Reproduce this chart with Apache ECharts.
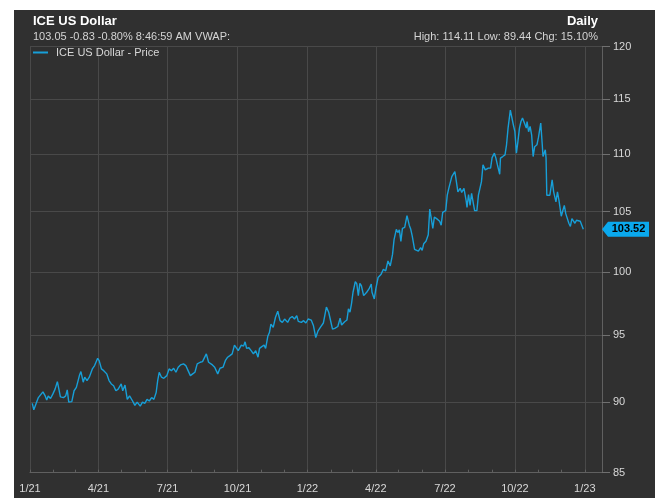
<!DOCTYPE html>
<html>
<head>
<meta charset="utf-8">
<script src="https://cdn.jsdelivr.net/npm/echarts@6/dist/echarts.min.js"></script>
<style>
  html, body { margin: 0; padding: 0; background: #fff; }
  #chart { position: absolute; left: 14px; top: 10px; width: 641px; height: 488px; }
</style>
</head>
<body>
<div id="chart"></div>
<script>
// calendar days since 2021-01-01
const days = [
  3, 5, 7, 11, 13, 17, 20, 22, 24, 27, 30, 33, 36, 38, 40, 44, 47, 49, 51, 55,
  58, 61, 65, 67, 70, 72, 75, 78, 80, 82, 85, 89, 91, 94, 97, 101, 104, 107, 110, 113,
  116, 120, 122, 125, 128, 131, 135, 138, 141, 145, 148, 151, 154, 157, 160, 163, 166, 168, 170, 173,
  176, 180, 183, 186, 189, 192, 195, 198, 202, 205, 208, 211, 214, 217, 220, 224, 227, 229, 232, 235,
  237, 240, 243, 247, 250, 254, 257, 260, 263, 266, 269, 271, 274, 278, 281, 283, 285, 288, 291, 294,
  297, 300, 302, 305, 308, 310, 313, 315, 317, 320, 323, 326, 329, 332, 335, 339, 342, 345, 348, 351,
  353, 357, 360, 363, 366, 370, 373, 376, 379, 382, 386, 388, 390, 393, 395, 398, 401, 405, 408, 410,
  414, 417, 419, 421, 423, 425, 428, 430, 432, 434, 436, 439, 443, 446, 449, 450, 453, 455, 458, 462,
  465, 468, 471, 474, 477, 479, 482, 484, 486, 488, 490, 493, 496, 499, 501, 503, 506, 508, 511, 514,
  516, 518, 521, 524, 526, 528, 530, 532, 535, 539, 541, 543, 545, 547, 549, 551, 553, 555, 557, 559,
  561, 563, 566, 568, 571, 574, 575, 577, 579, 581, 583, 585, 588, 590, 592, 594, 596, 599, 601, 603,
  606, 608, 611, 613, 615, 618, 619, 622, 625, 627, 629, 632, 634, 636, 638, 640, 642, 644, 646, 648,
  650, 653, 654, 656, 658, 660, 662, 664, 667, 669, 671, 672, 674, 675, 678, 679, 680, 682, 684, 686,
  687, 689, 692, 694, 696, 699, 701, 703, 705, 707, 709, 711, 713, 715, 717, 719, 721, 724, 726, 728
];
const prices = [
  89.91, 89.44, 89.53, 90.33, 90.19, 90.75, 90.45, 90.15, 90.45, 90.26, 90.58, 90.95, 91.50, 90.95, 90.38, 90.33, 90.45, 90.90, 90.00, 90.03,
  90.83, 91.08, 91.95, 92.25, 91.46, 91.83, 91.58, 91.83, 91.70, 92.45, 92.70, 93.25, 93.07, 92.45, 92.32, 92.08, 91.58, 91.33, 91.20, 90.83,
  90.95, 91.33, 90.83, 91.25, 90.20, 90.45, 90.08, 89.76, 90.00, 89.71, 90.00, 89.91, 90.20, 90.08, 90.33, 90.20, 90.70, 91.58, 92.20, 91.83,
  91.75, 91.95, 92.45, 92.32, 92.50, 92.20, 92.58, 92.75, 92.83, 92.70, 92.32, 91.95, 92.08, 92.20, 92.83, 92.95, 93.00, 93.07, 93.58, 92.95,
  93.07, 92.75, 92.58, 92.08, 92.50, 92.58, 93.07, 93.33, 93.45, 93.58, 94.25, 94.33, 93.83, 94.25, 94.17, 94.50, 94.00, 94.05, 93.83, 93.58,
  93.83, 93.33, 94.00, 94.13, 94.25, 94.00, 94.95, 95.21, 95.87, 95.61, 96.40, 96.87, 96.13, 96.00, 96.26, 96.00, 96.34, 96.45, 96.26, 96.52,
  96.08, 96.00, 96.13, 95.95, 96.26, 96.18, 95.73, 94.83, 95.34, 95.61, 95.95, 96.00, 97.19, 96.79, 96.26, 95.47, 95.53, 95.68, 96.32, 95.79,
  96.05, 96.18, 97.06, 96.79, 97.45, 98.37, 99.21, 99.03, 98.10, 99.08, 98.89, 98.10, 98.37, 98.63, 99.03, 98.37, 97.84, 98.63, 99.55, 99.82,
  100.22, 100.08, 100.89, 100.49, 101.43, 102.65, 103.51, 103.24, 103.46, 102.51, 103.59, 103.67, 104.67, 103.86, 103.51, 102.92, 101.84, 101.92, 101.70, 101.98,
  101.76, 102.30, 102.51, 103.06, 105.22, 105.37, 103.59, 104.54, 104.41, 104.19, 103.86, 104.94, 104.81, 105.09, 106.41, 107.00, 106.94, 108.02, 108.17, 108.47,
  107.58, 106.70, 107.00, 106.65, 107.00, 105.88, 105.37, 106.47, 105.53, 106.56, 106.41, 105.09, 105.09, 106.41, 106.56, 107.58, 109.05, 108.61, 108.47, 108.77,
  108.77, 109.70, 110.09, 109.65, 109.05, 108.23, 109.65, 109.79, 109.94, 110.84, 112.35, 114.00, 114.11, 112.63, 112.02, 110.09, 111.15, 112.35, 112.95, 113.26,
  113.10, 112.35, 112.95, 112.02, 112.50, 111.74, 109.79, 110.67, 110.84, 111.50, 111.45, 112.81, 110.84, 109.79, 110.39, 109.65, 106.41, 106.26, 106.41, 107.29,
  107.73, 106.70, 105.83, 106.70, 105.97, 104.61, 105.08, 105.53, 104.81, 104.94, 104.02, 103.75, 104.41, 104.54, 104.02, 104.27, 104.14, 104.19, 104.35, 103.52
];

const quarterDays = [0, 90, 181, 273, 365, 455, 546, 638, 730];
const quarterLabels = ['1/21', '4/21', '7/21', '10/21', '1/22', '4/22', '7/22', '10/22', '1/23'];
const monthDays = [0, 31, 59, 90, 120, 151, 181, 212, 243, 273, 304, 334, 365, 396, 424, 455, 485, 516, 546, 577, 608, 638, 669, 699, 730];
const priceTicks = [85, 90, 95, 100, 105, 110, 115, 120];

const FONT = 'Arial, "Liberation Sans", sans-serif';
const lastDay = 752.6;

const chart = echarts.init(document.getElementById('chart'));

const labelOf = {};
quarterDays.forEach((d, i) => { labelOf[d] = quarterLabels[i]; });

const option = {
  backgroundColor: '#303030',
  animation: false,
  textStyle: { fontFamily: FONT },
  title: [
    { text: 'ICE US Dollar', left: 19, top: 4, padding: 0,
      textStyle: { color: '#ffffff', fontSize: 13, fontWeight: 'bold', fontFamily: FONT, lineHeight: 14 } },
    { text: '103.05 -0.83 -0.80% 8:46:59 AM VWAP:', left: 19, top: 21, padding: 0,
      textStyle: { color: '#d4d4d4', fontSize: 11, fontWeight: 'normal', fontFamily: FONT, lineHeight: 12 } },
    { text: 'Daily', right: 57, top: 4, padding: 0,
      textStyle: { color: '#ffffff', fontSize: 13, fontWeight: 'bold', fontFamily: FONT, lineHeight: 14 } },
    { text: 'High: 114.11 Low: 89.44 Chg: 15.10%', right: 57, top: 21, padding: 0,
      textStyle: { color: '#d4d4d4', fontSize: 11, fontWeight: 'normal', fontFamily: FONT, lineHeight: 12 } }
  ],
  legend: {
    left: 19, top: 37, padding: 0,
    icon: 'rect', itemWidth: 15, itemHeight: 2,
    textStyle: { color: '#d8d8d8', fontSize: 11, fontFamily: FONT, padding: [0, 0, 0, 3] },
    data: ['ICE US Dollar - Price']
  },
  grid: { left: 16, right: 53, top: 36.7, bottom: 25.3, containLabel: false, outerBoundsMode: 'none' },
  xAxis: [
    {
      type: 'value', min: 0, max: lastDay,
      axisLine: { show: true, onZero: false, lineStyle: { color: '#606060' } },
      axisTick: { show: false, customValues: quarterDays },
      axisLabel: {
        customValues: quarterDays, color: '#d8d8d8', fontSize: 11, margin: 11,
        formatter: v => labelOf[Math.round(v)] || ''
      },
      splitLine: { show: true, lineStyle: { color: '#494949', width: 1 } }
    },
    {
      type: 'value', min: 0, max: lastDay, position: 'bottom', offset: 0,
      axisLine: { show: false, onZero: false },
      axisTick: { show: true, inside: true, length: 3, customValues: monthDays, lineStyle: { color: '#606060' } },
      axisLabel: { show: false },
      splitLine: { show: false }
    }
  ],
  yAxis: {
    type: 'value', position: 'right',
    min: Math.log(85), max: Math.log(120),
    axisLine: { show: true, onZero: false, lineStyle: { color: '#606060' } },
    axisTick: { show: true, length: 8, customValues: priceTicks.map(Math.log), lineStyle: { color: '#707070' } },
    axisLabel: {
      customValues: priceTicks.map(Math.log), color: '#d8d8d8', fontSize: 11, margin: 11,
      formatter: v => String(Math.round(Math.exp(v)))
    },
    splitLine: { show: true, lineStyle: { color: '#494949', width: 1 } }
  },
  series: [{
    name: 'ICE US Dollar - Price',
    type: 'line',
    xAxisIndex: 0,
    showSymbol: false,
    color: '#179fd8',
    lineStyle: { width: 1.4, color: '#179fd8' },
    data: days.map((d, i) => [d, Math.log(prices[i])]),
    markPoint: {
      silent: true,
      symbol: 'path://M0,7.5L6,0L47,0L47,15L6,15Z',
      symbolSize: [47, 15],
      symbolOffset: [23.5, 0],
      itemStyle: { color: '#0aa9ee' },
      label: {
        show: true, position: 'inside', offset: [3, 0],
        color: '#000000', fontSize: 11, fontWeight: 'bold', fontFamily: FONT,
        formatter: p => p.value.toFixed(2)
      },
      data: [{ coord: [lastDay, Math.log(prices[prices.length - 1])], value: prices[prices.length - 1] }]
    }
  }]
};

chart.setOption(option);
</script>
</body>
</html>
